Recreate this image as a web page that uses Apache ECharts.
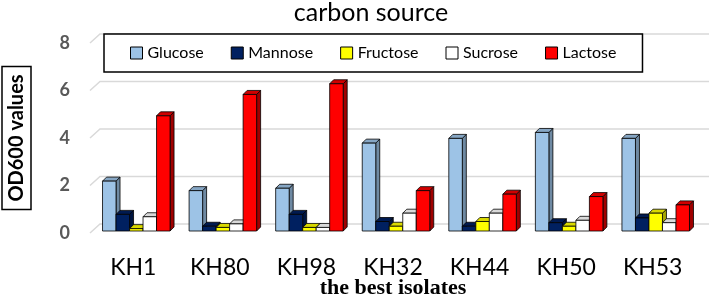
<!DOCTYPE html>
<html>
<head>
<meta charset="utf-8">
<script src="https://cdn.jsdelivr.net/npm/echarts@6/dist/echarts.min.js"></script>
<style>
  html, body { margin: 0; padding: 0; background: #fff; }
  #chart { width: 709px; height: 300px; }
</style>
</head>
<body>
<div id="chart"></div>
<script>
  // data
  var isolates = ['KH1', 'KH80', 'KH98', 'KH32', 'KH44', 'KH50', 'KH53'];
  var glucose  = [2.1, 1.7, 1.8, 3.7, 3.9, 4.15, 3.9];
  var mannose  = [0.7, 0.2, 0.7, 0.4, 0.2, 0.35, 0.55];
  var fructose = [0.1, 0.15, 0.15, 0.2, 0.4, 0.2, 0.75];
  var sucrose  = [0.6, 0.3, 0.15, 0.75, 0.75, 0.45, 0.35];
  var lactose  = [4.85, 5.75, 6.2, 1.7, 1.55, 1.45, 1.1];
  var yTicks   = [0, 2, 4, 6, 8];

  var sugars = [
    { name: 'Glucose',  data: glucose,  front: '#9dc3e6', side: '#6f8aa3', top: '#86a6c4' },
    { name: 'Mannose',  data: mannose,  front: '#002060', side: '#001540', top: '#001a50' },
    { name: 'Fructose', data: fructose, front: '#ffff00', side: '#a6a600', top: '#d9d900' },
    { name: 'Sucrose',  data: sucrose,  front: '#ffffff', side: '#bfbfbf', top: '#d9d9d9' },
    { name: 'Lactose',  data: lactose,  front: '#ff0000', side: '#a00000', top: '#d00000' }
  ];

  var myChart = echarts.init(document.getElementById('chart'));
  var FONT = 'Lato, "Open Sans", sans-serif';
  var D = 4; // depth of the fake 3d

  function barRenderer(k, s) {
    return function (params, api) {
      var top = api.coord([api.value(0), api.value(1)]);
      var base = api.coord([api.value(0), 0]);
      var band = api.size([1, 0])[0];
      var bw = band * 0.156;
      var x = top[0] - 2.5 * bw + k * bw + 3;
      var y0 = base[1], y1 = top[1];
      var line = { stroke: '#000', lineWidth: 0.8 };
      return {
        type: 'group',
        children: [
          { type: 'polygon', shape: { points: [[x + bw, y1], [x + bw + D, y1 - D], [x + bw + D, y0 - D], [x + bw, y0]] },
            style: Object.assign({ fill: s.side }, line) },
          { type: 'polygon', shape: { points: [[x, y1], [x + D, y1 - D], [x + bw + D, y1 - D], [x + bw, y1]] },
            style: Object.assign({ fill: s.top }, line) },
          { type: 'rect', shape: { x: x, y: y1, width: bw, height: y0 - y1 },
            style: Object.assign({ fill: s.front }, line) }
        ]
      };
    };
  }

  var series = [{
    type: 'custom',
    name: 'wall',
    xAxisIndex: 1,
    yAxisIndex: 1,
    silent: true,
    z: 0,
    data: yTicks.map(function (v) { return [0, v]; }),
    renderItem: function (params, api) {
      var cs = params.coordSys;
      var y = api.coord([0, api.value(1)])[1];
      return {
        type: 'polyline',
        shape: { points: [[cs.x, y], [cs.x + 10, y - 9], [cs.x + cs.width, y - 9]] },
        style: { stroke: '#d9d9d9', lineWidth: 1.5, fill: null }
      };
    }
  }];

  sugars.forEach(function (s, k) {
    series.push({
      type: 'custom',
      name: s.name,
      xAxisIndex: 0,
      yAxisIndex: 0,
      z: 2 + k,
      itemStyle: { color: s.front, borderColor: '#000', borderWidth: 1 },
      data: s.data.map(function (v, i) { return [i, v]; }),
      renderItem: barRenderer(k, s)
    });
  });

  myChart.setOption({
    animation: false,
    title: {
      text: 'carbon source',
      left: 366,
      textAlign: 'center',
      top: -5,
      textStyle: { fontFamily: FONT, fontSize: 25, fontWeight: 'normal', color: '#000' }
    },
    legend: {
      data: sugars.map(function (s) { return s.name; }),
      left: 104,
      top: 34,
      z: 10,
      icon: 'rect',
      itemWidth: 12,
      itemHeight: 12,
      itemGap: 27,
      padding: [11, 26, 11, 26],
      backgroundColor: '#fff',
      borderColor: '#000',
      borderWidth: 1.5,
      borderRadius: 0,
      itemStyle: { borderColor: '#000', borderWidth: 1 },
      textStyle: { fontFamily: FONT, fontSize: 16, color: '#000' }
    },
    grid: [
      { left: 90, right: 13, top: 41, bottom: 69, outerBoundsMode: 'none' },
      { left: 90, right: 0, top: 43, bottom: 67, outerBoundsMode: 'none' }
    ],
    xAxis: [
      {
        type: 'category',
        gridIndex: 0,
        data: isolates,
        axisLine: { show: false },
        axisTick: { show: false },
        axisLabel: { margin: 25, fontFamily: FONT, fontSize: 23, color: '#000' },
        name: 'the best isolates',
        nameLocation: 'middle',
        nameGap: 46,
        nameMoveOverlap: false,
        nameTextStyle: { fontFamily: '"Liberation Serif", serif', fontSize: 22, fontWeight: 'bold', color: '#000' }
      },
      { type: 'value', gridIndex: 1, min: 0, max: 1, show: false }
    ],
    yAxis: [
      { type: 'value', gridIndex: 0, min: 0, max: 8, interval: 2, show: false },
      {
        type: 'value',
        gridIndex: 1,
        min: 0,
        max: 8,
        interval: 2,
        axisLine: { show: false },
        axisTick: { show: false },
        splitLine: { show: false },
        axisLabel: { margin: 20, fontFamily: FONT, fontSize: 18, fontWeight: 'bold', color: '#595959' },
        name: 'OD600 values',
        nameLocation: 'middle',
        nameRotate: 90,
        nameGap: 59,
        nameMoveOverlap: false,
        nameTextStyle: {
          fontFamily: FONT, fontSize: 20, fontWeight: 'bold', color: '#000',
          borderColor: '#000', borderWidth: 1.5, padding: [5, 8, 4, 8]
        }
      }
    ],
    series: series
  });

  window.addEventListener('resize', function () {
    myChart.resize();
  });
</script>
</body>
</html>
